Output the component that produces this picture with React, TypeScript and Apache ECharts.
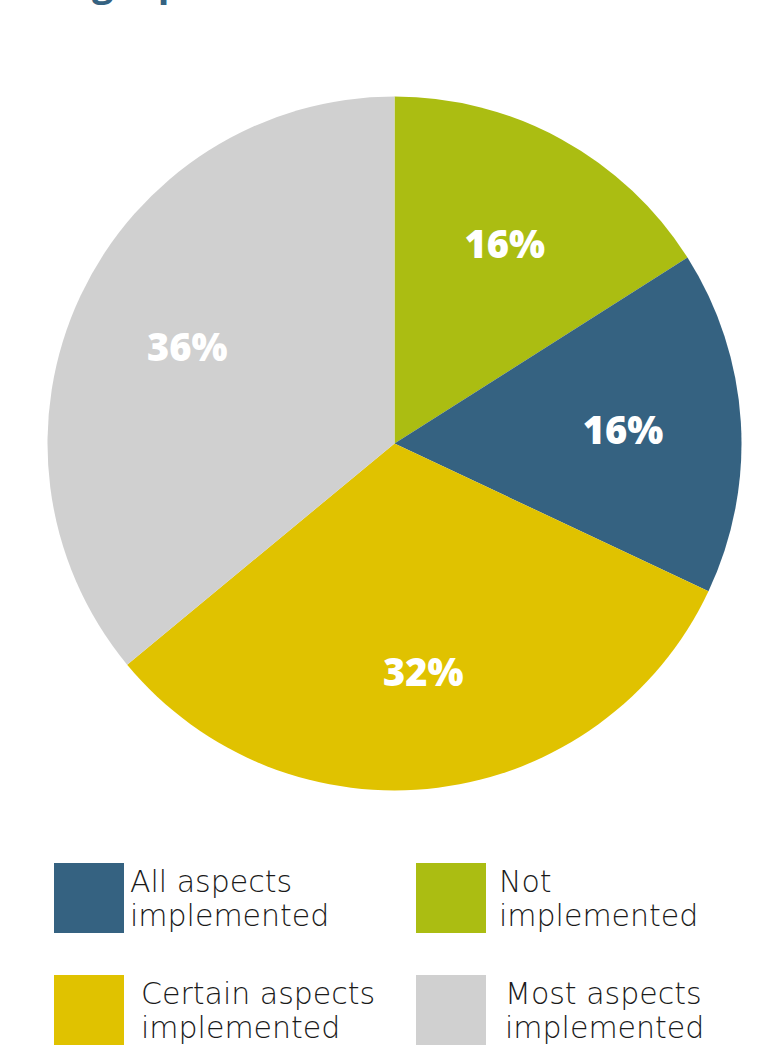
import React, { useEffect, useRef } from "react";
import * as echarts from "echarts";

const categories = ["Not implemented", "All aspects implemented", "Certain aspects implemented", "Most aspects implemented"];
const values = [16, 16, 32, 36];
const colors = ["#abbd12", "#356281", "#e0c200", "#d0d0d0"];
const titleText = "Legal provisions";

const legendLayout = [
  { name: "All aspects implemented", left: 54, top: 862, pad: 1 },
  { name: "Not implemented", left: 416, top: 862, pad: 8 },
  { name: "Certain aspects implemented", left: 54, top: 974, pad: 12 },
  { name: "Most aspects implemented", left: 416, top: 974, pad: 14 },
];

export default function App() {
  const ref = useRef<HTMLDivElement>(null);
  useEffect(() => {
    document.body.style.margin = "0";
    const chart = echarts.init(ref.current!, null, { renderer: "svg" });
    const data = categories.map((c, i) => ({ name: c, value: values[i], itemStyle: { color: colors[i] } }));
    chart.setOption({
      animation: false,
      graphic: [
        {
          type: "text",
          left: 48,
          top: -38,
          style: {
            text: titleText,
            font: "bold 38px 'Open Sans', sans-serif",
            fill: "#356281",
          },
        },
      ],
      legend: legendLayout.map((l) => {
        const idx = categories.indexOf(l.name);
        return {
          data: [{ name: l.name, itemStyle: { color: colors[idx] } }],
          left: l.left,
          top: l.top,
          padding: 0,
          orient: "vertical",
          icon: "rect",
          itemWidth: 70,
          itemHeight: 70,
          selectedMode: false,
          formatter: (n: string) => n.replace(" implemented", "\nimplemented"),
          textStyle: {
            fontFamily: "'DejaVu Sans', sans-serif",
            fontWeight: 200,
            fontSize: 30,
            lineHeight: 34,
            color: "#1a1a1a",
            padding: [4, 0, 0, l.pad],
          },
        };
      }),
      series: [
        {
          type: "pie",
          center: [394.5, 443.5],
          radius: [0, 347],
          startAngle: 90,
          clockwise: true,
          label: { show: false },
          labelLine: { show: false },
          emphasis: { disabled: true },
          data,
        },
        {
          type: "pie",
          center: [394.5, 443.5],
          radius: [0, 452],
          startAngle: 90,
          clockwise: true,
          silent: true,
          legendHoverLink: false,
          itemStyle: { color: "transparent" },
          emphasis: { disabled: true },
          label: {
            show: true,
            position: "inside",
            formatter: "{c}%",
            color: "#ffffff",
            fontFamily: "'Open Sans', sans-serif",
            fontWeight: 800,
            fontSize: 38,
          },
          labelLine: { show: false },
          data: categories.map((c, i) => ({ name: c, value: values[i], itemStyle: { color: "transparent" } })),
        },
      ],
    });
    return () => chart.dispose();
  }, []);
  return <div ref={ref} style={{ width: 782, height: 1046 }} />;
}
